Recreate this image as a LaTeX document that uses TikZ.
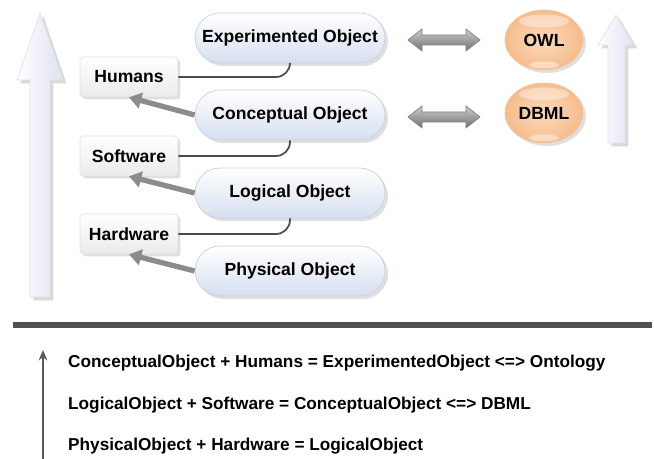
\documentclass[tikz,border=0pt]{standalone}
\usepackage{fontspec}
\setmainfont{Liberation Sans}
\usetikzlibrary{arrows.meta,shapes.geometric,shadows}

\definecolor{pillblue}{RGB}{214,223,240}
\definecolor{pilledge}{RGB}{200,208,226}
\definecolor{orangein}{RGB}{251,218,188}
\definecolor{orangeout}{RGB}{245,188,140}
\definecolor{lavender}{RGB}{222,226,242}
\definecolor{rulegray}{RGB}{80,80,80}

\begin{document}
\begin{tikzpicture}[x=0.02cm,y=-0.02cm,
  font=\fontsize{10}{12}\selectfont\bfseries,
  pill/.style={rectangle,rounded corners=0.5cm,minimum width=3.8cm,minimum height=1cm,
    top color=white,bottom color=pillblue,draw=pilledge,
    drop shadow={shadow xshift=0.6mm,shadow yshift=-0.6mm,opacity=0.25}},
  tag/.style={rectangle,rounded corners=2pt,minimum width=1.96cm,minimum height=0.8cm,
    top color=white,bottom color=black!8,draw=black!12,
    drop shadow={shadow xshift=0.5mm,shadow yshift=-0.5mm,opacity=0.25}},
  ball/.style={ellipse,minimum width=1.56cm,minimum height=1.2cm,inner sep=0pt,
    inner color=orangein,outer color=orangeout,draw=orangeout!85!white,
    drop shadow={shadow xshift=0.6mm,shadow yshift=-0.6mm,opacity=0.25},
    path picture={\fill[white,opacity=0.4] ([yshift=-0.22cm]path picture bounding box.north)
      ellipse (0.5cm and 0.13cm);
      \fill[white,opacity=0.45] ([yshift=0.1cm]path picture bounding box.south)
      ellipse (0.3cm and 0.07cm);}},
  link/.style={draw=black!70,line width=1pt,rounded corners=0.28cm},
  push/.style={draw=black!45,line width=3pt,-{Triangle[width=9pt,length=7pt]}},
  bigarrow/.style={left color=white,right color=lavender,draw=lavender!80!black!40,
    drop shadow={shadow xshift=0.7mm,shadow yshift=-0.7mm,opacity=0.3}},
  dbl/.style={top color=black!20,bottom color=black!55,draw=black!50}]
\useasboundingbox (0,0) rectangle (654,459);

% big arrows
\path[bigarrow] (30,297) -- (30,80) -- (17,80) -- (40,13) -- (63,80) -- (50,80) -- (50,297) -- cycle;
\path[bigarrow] (608,143) -- (608,45) -- (598,45) -- (616,15) -- (634,45) -- (625,45) -- (625,143) -- cycle;

% objects
\foreach \n/\y/\t in {eo/38/Experimented Object,co/115/Conceptual Object,lo/193/Logical Object,po/271/Physical Object}
  \node[pill] (\n) at (290,\y) {\t};
\foreach \n/\y/\t in {hum/77/Humans,sw/156/Software,hw/234/Hardware}
  \node[tag] (\n) at (129,\y) {\t};
\foreach \b/\p in {hum/eo,sw/co,hw/lo}
  \draw[link] (\b.east) -| (\p.south);
\foreach \p/\b in {co/hum,lo/sw,po/hw}
  \draw[push] (\p.west) -- (\b.south);

% languages
\node[ball] (owl) at (544,40) {OWL};
\node[ball] (dbml) at (544,113) {DBML};
\foreach \y in {40,117} {
  \begin{scope}[yshift=-0.02*\y cm]
  \path[dbl] (408,0) -- (422,-11) -- (422,-5) -- (466,-5) -- (466,-11) -- (480,0)
    -- (466,11) -- (466,5) -- (422,5) -- (422,11) -- cycle;
  \end{scope}
}

% rule and formulas
\coordinate (r1) at (13,325);
\coordinate (r2) at (652,325);
\draw[rulegray,line width=3pt] (r1) -- (r2);
\coordinate (a1) at (43,459);
\coordinate (a2) at (43,350);
\draw[black!65,line width=0.8pt,-{Stealth[length=6pt,width=5pt]}] (a1) -- (a2);
\begin{scope}[font=\fontsize{9.8}{12}\selectfont\bfseries]
\node[anchor=west] (f1) at (62,363) {ConceptualObject + Humans = ExperimentedObject <=> Ontology};
\node[anchor=west] (f2) at (62,405) {LogicalObject + Software = ConceptualObject <=> DBML};
\node[anchor=west] (f3) at (62,446) {PhysicalObject + Hardware = LogicalObject};
\end{scope}
\end{tikzpicture}
\end{document}
